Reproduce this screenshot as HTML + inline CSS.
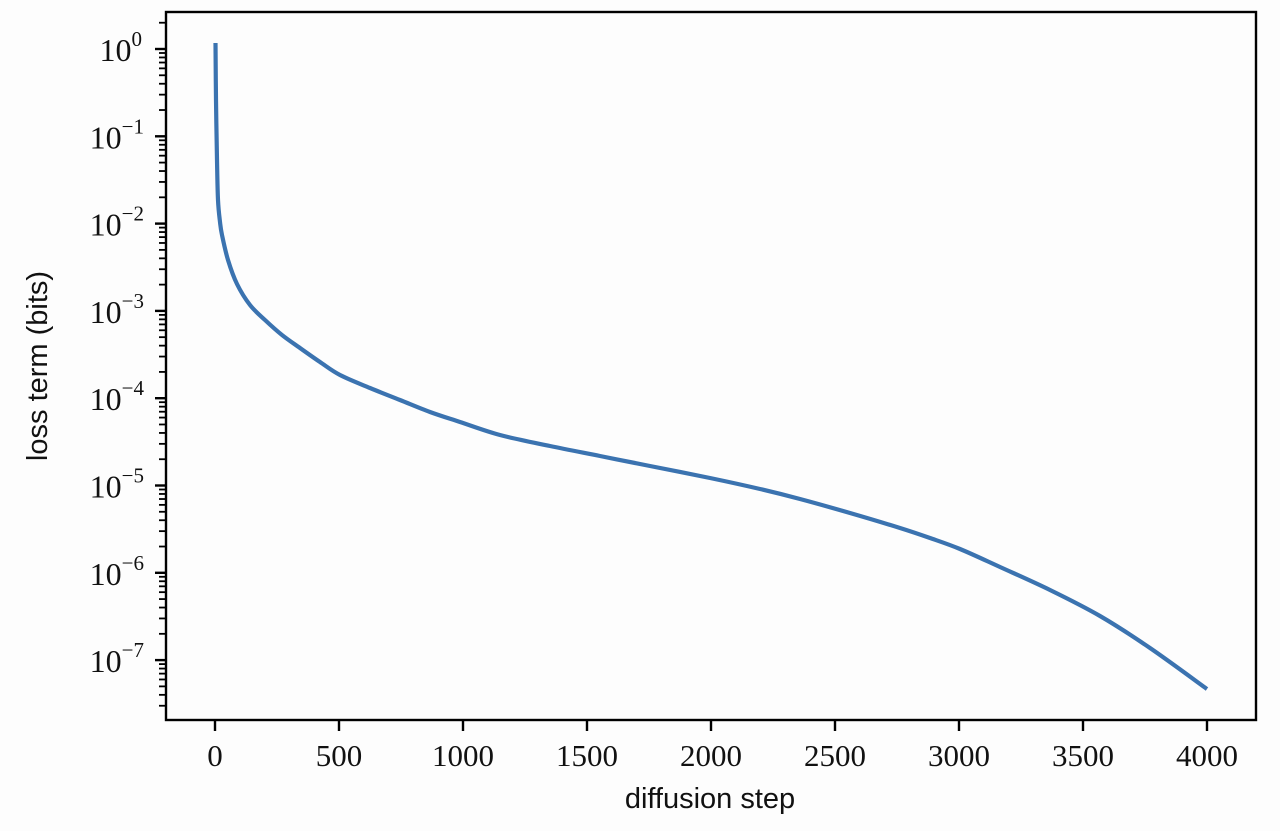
<!DOCTYPE html>
<html><head><meta charset="utf-8"><style>
body{margin:0;background:#fdfdfd;}
svg{display:block}
text{font-family:"Liberation Serif",serif;fill:#111}
</style></head><body>
<svg id="s" width="1280" height="831" xmlns="http://www.w3.org/2000/svg">
<rect width="1280" height="831" fill="#fdfdfd"/>
<g id="t"></g>
<path id="c" fill="none" stroke="#3b73b0" stroke-width="4.2" stroke-linejoin="round" d=""/>
<rect x="166" y="12" width="1090" height="708" fill="none" stroke="#000" stroke-width="2.4"/>
<text x="710" y="808" font-size="29" text-anchor="middle" style="font-family:'Liberation Sans',sans-serif">diffusion step</text>
<text transform="translate(47,366) rotate(-90)" font-size="29" text-anchor="middle" style="font-family:'Liberation Sans',sans-serif">loss term (bits)</text>
</svg>
<script>
var g=document.getElementById('t'),h='';
for(var i=0;i<=8;i++){var x=215+i*124;
h+='<line x1="'+x+'" y1="720" x2="'+x+'" y2="731" stroke="#000" stroke-width="2.4"/>';
h+='<text x="'+x+'" y="766" font-size="31" text-anchor="middle">'+(i*500)+'</text>';}
for(var n=-1;n<=8;n++){var y0=49+87.3*n;
if(n>=0&&n<=7){h+='<line x1="155" y1="'+y0+'" x2="166" y2="'+y0+'" stroke="#000" stroke-width="2.4"/>';
h+='<text x="'+(n==0?142:144)+'" y="'+(y0+12)+'" font-size="32" text-anchor="end">10<tspan dy="-15" font-size="21">'+(n==0?'0':'\u2212'+n)+'</tspan></text>';}
for(var k=2;k<=9;k++){var y=y0-Math.log10(k)*87.3;if(y>12&&y<720)h+='<line x1="159" y1="'+y+'" x2="166" y2="'+y+'" stroke="#000" stroke-width="1.8"/>';}}
g.innerHTML=h;
var p=[[215.5,43],[216,100],[217,160],[218,200],[220,222],[222,235],[228,260],[237,284],[250,305],[265,320],[282,335],[300,348],[320,362],[340,375],[370,388],[400,400],[430,412],[460,422],[500,435],[550,446],[600,456],[650,466],[710,478],[760,489],[800,499],[850,513],[900,528],[930,538],[960,549],[1000,567],[1050,590],[1100,616],[1150,648],[1207,689]];
var d='M'+p[0][0]+','+p[0][1];
for(var i=0;i<p.length-1;i++){var a=p[Math.max(0,i-1)],b=p[i],c=p[i+1],e=p[Math.min(p.length-1,i+2)];
d+=' C'+(b[0]+(c[0]-a[0])/6)+','+(b[1]+(c[1]-a[1])/6)+' '+(c[0]-(e[0]-b[0])/6)+','+(c[1]-(e[1]-b[1])/6)+' '+c[0]+','+c[1];}
document.getElementById('c').setAttribute('d',d);
</script>
</body></html>
